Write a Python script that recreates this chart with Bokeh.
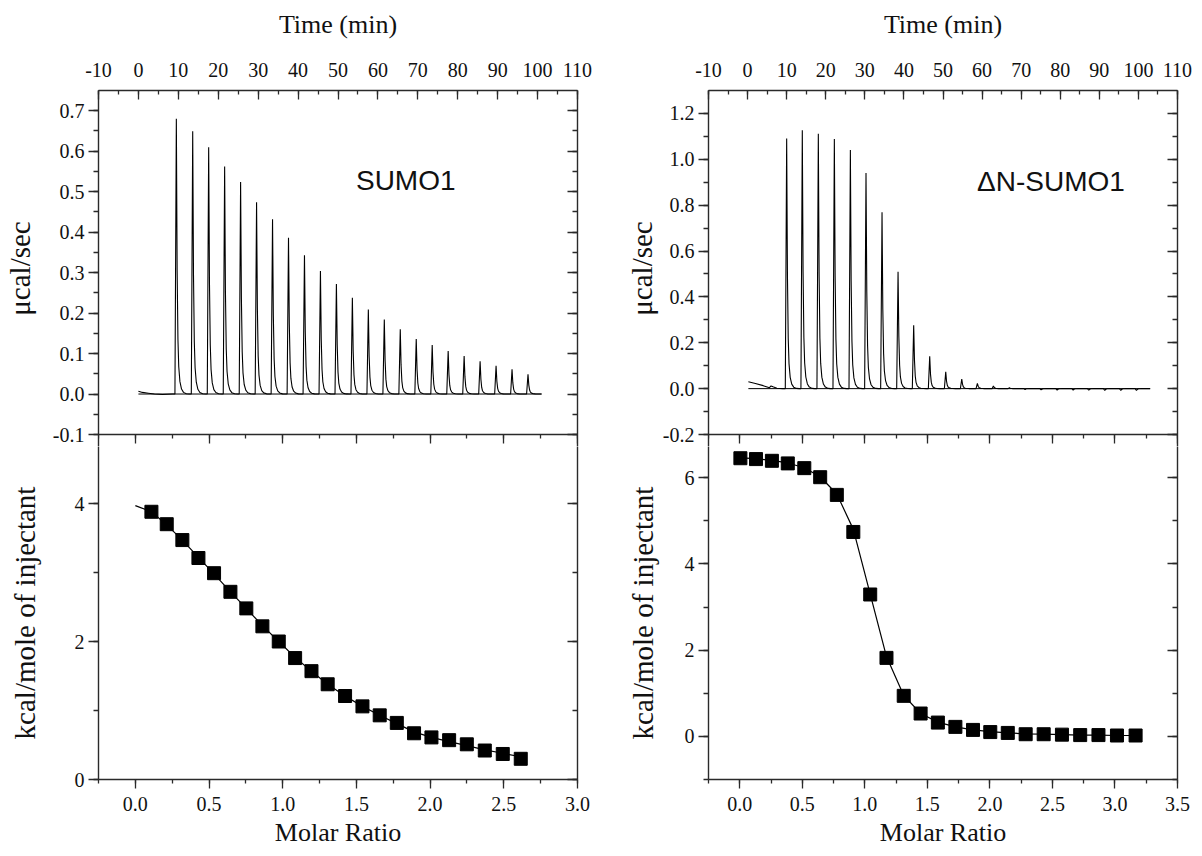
from bokeh.plotting import figure
from bokeh.layouts import row, column
from bokeh.models import (LinearAxis, Range1d, Label, SingleIntervalTicker,
                          PrintfTickFormatter)
from bokeh.embed import file_html
from bokeh.resources import INLINE

# ---------------- data ----------------
# shape of one injection peak, relative to its tip (minutes, fraction of height)
PEAK_DT = [-0.35, 0.0, 0.2, 0.4, 0.6, 0.9, 1.3, 1.8, 2.5, 3.2]
PEAK_FRAC = [0.0, 1.0, 0.45, 0.2, 0.1, 0.045, 0.018, 0.006, 0.001, 0.0]

# SUMO1 raw thermogram
LEFT_PRE_T = [0.0, 1.0, 2.5, 4.0, 6.0, 8.5]
LEFT_PRE_Y = [0.007, 0.004, 0.002, 0.0, -0.001, 0.0]
LEFT_INJ_T = [9.5, 13.6, 17.6, 21.6, 25.6, 29.6, 33.6, 37.6, 41.6, 45.6, 49.6, 53.6,
              57.6, 61.6, 65.6, 69.6, 73.6, 77.6, 81.6, 85.6, 89.6, 93.6, 97.6]
LEFT_PEAK = [0.680, 0.649, 0.610, 0.562, 0.524, 0.474, 0.432, 0.386, 0.343, 0.304, 0.272,
             0.238, 0.209, 0.184, 0.160, 0.136, 0.121, 0.106, 0.094, 0.081, 0.070, 0.061, 0.049]
LEFT_END_T = 101.0
LEFT_BASE_T = [0.0, 101.0]
LEFT_BASE_Y = [0.0, 0.0]

# SUMO1 integrated heats
LEFT_MR = [0.109, 0.213, 0.319, 0.428, 0.534, 0.645, 0.753, 0.862, 0.973, 1.084, 1.195, 1.305,
           1.423, 1.541, 1.658, 1.774, 1.891, 2.009, 2.129, 2.249, 2.371, 2.493, 2.615]
LEFT_DH = [3.88, 3.70, 3.47, 3.21, 2.99, 2.72, 2.48, 2.22, 2.00, 1.76, 1.57, 1.38,
           1.21, 1.06, 0.93, 0.82, 0.67, 0.61, 0.57, 0.51, 0.42, 0.37, 0.30]
LEFT_FIT_MR = [0.0, 0.109, 0.213, 0.319, 0.428, 0.534, 0.645, 0.753, 0.862, 0.973, 1.084, 1.195,
               1.305, 1.423, 1.541, 1.658, 1.774, 1.891, 2.009, 2.129, 2.249, 2.371, 2.493, 2.615]
LEFT_FIT_DH = [3.97, 3.88, 3.69, 3.47, 3.22, 2.98, 2.72, 2.48, 2.23, 2.00, 1.77, 1.57,
               1.38, 1.21, 1.06, 0.93, 0.81, 0.69, 0.61, 0.55, 0.49, 0.43, 0.38, 0.33]

# dN-SUMO1 raw thermogram
RIGHT_PRE_T = [0.2, 2.0, 4.0, 5.6, 6.0, 6.5, 7.5, 9.0]
RIGHT_PRE_Y = [0.030, 0.022, 0.013, 0.004, 0.012, 0.008, 0.002, 0.0]
RIGHT_INJ_T = [10.0, 14.0, 18.1, 22.2, 26.3, 30.3, 34.4, 38.5, 42.5, 46.6, 50.7, 54.8,
               58.8, 62.9, 67.0, 71.0, 75.1, 79.2, 83.3, 87.3, 91.4, 95.5, 99.5]
RIGHT_PEAK = [1.091, 1.127, 1.111, 1.088, 1.040, 0.940, 0.769, 0.510, 0.276, 0.141, 0.073, 0.042,
              0.023, 0.012, 0.004, -0.004, -0.005, -0.006, -0.006, -0.007, -0.008, -0.008, -0.008]
RIGHT_END_T = 103.0
RIGHT_BASE_T = [0.2, 103.0]
RIGHT_BASE_Y = [0.0, 0.0]

# dN-SUMO1 integrated heats
RIGHT_MR = [0.005, 0.130, 0.257, 0.384, 0.516, 0.643, 0.776, 0.908, 1.043, 1.173, 1.311, 1.446,
            1.584, 1.724, 1.865, 2.003, 2.143, 2.286, 2.430, 2.576, 2.722, 2.868, 3.016, 3.165]
RIGHT_DH = [6.45, 6.43, 6.39, 6.33, 6.22, 6.01, 5.60, 4.74, 3.29, 1.82, 0.94, 0.53,
            0.32, 0.22, 0.15, 0.10, 0.08, 0.05, 0.05, 0.04, 0.03, 0.03, 0.02, 0.02]
RIGHT_FIT_DH = [6.46, 6.44, 6.40, 6.34, 6.23, 6.02, 5.62, 4.80, 3.30, 1.85, 0.95, 0.53,
                0.33, 0.22, 0.15, 0.11, 0.08, 0.06, 0.05, 0.04, 0.03, 0.03, 0.02, 0.02]

LEFT_NAME = "SUMO1"
RIGHT_NAME = "\u0394N-SUMO1"
TIME_LABEL = "Time (min)"
RAW_LABEL = "\u03bccal/sec"
HEAT_LABEL = "kcal/mole of injectant"
MR_LABEL = "Molar Ratio"

# ---------------- styling / layout ----------------
SERIF = "Liberation Serif"
SANS = "Liberation Sans"
AX = "#2a2a2a"
TXT = "#111111"
TOP_B = 90        # page y of the frame top
DIV_Y = 434       # page y of the divider between the two panels
SPLIT_Y = 446     # where the upper canvas ends (room for the "-0.1" label)
BOT_Y = 779       # page y of the lower frame bottom
TOTAL_H = 854
T_RANGE = (-10, 110)


def build_trace(pre_t, pre_y, inj_t, peaks, end_t):
    t = list(pre_t)
    y = list(pre_y)
    for ti, hi in zip(inj_t, peaks):
        for d, f in zip(PEAK_DT, PEAK_FRAC):
            t.append(ti + d)
            y.append(hi * f)
    t.append(end_t)
    y.append(0.0)
    return t, y


def style_axis(ax, interval, fmt, inward, labels=True, tick=10):
    ax.ticker = SingleIntervalTicker(interval=interval, num_minor_ticks=2)
    ax.formatter = PrintfTickFormatter(format=fmt)
    ax.axis_line_color = AX
    ax.axis_line_width = 1.4
    ax.major_tick_line_color = AX
    ax.minor_tick_line_color = AX
    ax.major_tick_line_width = 1.3
    ax.minor_tick_line_width = 1.3
    if inward:
        ax.major_tick_in, ax.major_tick_out = tick, 0
        ax.minor_tick_in, ax.minor_tick_out = tick // 2, 0
    else:
        ax.major_tick_in, ax.major_tick_out = 0, tick
        ax.minor_tick_in, ax.minor_tick_out = 0, tick // 2
    if labels:
        ax.major_label_text_font = SERIF
        ax.major_label_text_font_size = "20px"
        ax.major_label_text_color = TXT
    else:
        ax.major_label_text_color = None
        ax.major_label_standoff = 0
    ax.axis_label_text_font = SERIF
    ax.axis_label_text_font_style = "normal"
    ax.axis_label_text_color = TXT


def base_fig(width, height, xr, yr, mb_l, mb_r, mb_t, mb_b, x_loc):
    p = figure(width=width, height=height, x_range=Range1d(*xr), y_range=Range1d(*yr),
               x_axis_location=x_loc, toolbar_location=None, output_backend="svg",
               min_border_left=mb_l, min_border_right=mb_r,
               min_border_top=mb_t, min_border_bottom=mb_b)
    p.xgrid.visible = False
    p.ygrid.visible = False
    p.outline_line_color = None
    p.background_fill_color = "white"
    p.border_fill_color = "white"
    return p


def raw_fig(width, mb_l, mb_r, raw_rng, raw_int, mr_rng, pre_t, pre_y, inj_t, peaks, end_t,
            base_t, base_y, name, name_x, name_y, ylab_standoff):
    lo, hi = raw_rng
    ppu = (DIV_Y - TOP_B) / (hi - lo)
    full_lo = hi - (SPLIT_Y - TOP_B) / ppu
    p = base_fig(width, SPLIT_Y, T_RANGE, (full_lo, hi), mb_l, mb_r, TOP_B, 0, "above")
    p.extra_x_ranges = {"mr": Range1d(*mr_rng)}

    tx = p.xaxis[0]
    style_axis(tx, 10, "%d", inward=True, tick=9)
    tx.major_label_standoff = 14
    tx.axis_label = TIME_LABEL
    tx.axis_label_text_font_size = "26px"
    tx.axis_label_standoff = 21

    ly = p.yaxis[0]
    style_axis(ly, raw_int, "%.1f", inward=False, tick=10)
    ly.major_label_standoff = 4
    ly.axis_label = RAW_LABEL
    ly.axis_label_text_font_size = "29px"
    ly.axis_label_standoff = ylab_standoff

    ry = LinearAxis()
    style_axis(ry, raw_int, "%.1f", inward=True, labels=False, tick=10)
    p.add_layout(ry, "right")

    # panel divider, carrying the molar-ratio ticks of the lower panel
    dv = LinearAxis(x_range_name="mr", fixed_location=lo)
    style_axis(dv, 0.5, "%.1f", inward=False, labels=False, tick=9)
    p.add_layout(dv, "below")

    t, y = build_trace(pre_t, pre_y, inj_t, peaks, end_t)
    p.line(base_t, base_y, color="black", line_width=1.0)
    p.line(t, y, color="black", line_width=1.1)
    p.add_layout(Label(x=name_x, y=name_y, text=name, text_font=SANS, text_font_size="28px",
                       text_color=TXT, text_align="left", text_baseline="middle"))
    return p


def heat_fig(width, mb_l, mb_r, mr_rng, heat_rng, mr, dh, fit_mr, fit_dh, ylab_standoff):
    lo, hi = heat_rng
    ppu = (BOT_Y - DIV_Y) / (hi - lo)
    top = lo + (BOT_Y - SPLIT_Y) / ppu
    p = base_fig(width, TOTAL_H - SPLIT_Y, mr_rng, (lo, top), mb_l, mb_r, 0,
                 TOTAL_H - BOT_Y, "below")

    bx = p.xaxis[0]
    style_axis(bx, 0.5, "%.1f", inward=False, tick=9)
    bx.major_label_standoff = 8
    bx.axis_label = MR_LABEL
    bx.axis_label_text_font_size = "26px"
    bx.axis_label_standoff = 4

    ly = p.yaxis[0]
    style_axis(ly, 2, "%d", inward=False, tick=10)
    ly.major_label_standoff = 4
    ly.axis_label = HEAT_LABEL
    ly.axis_label_text_font_size = "29px"
    ly.axis_label_standoff = ylab_standoff

    ry = LinearAxis()
    style_axis(ry, 2, "%d", inward=True, labels=False, tick=10)
    p.add_layout(ry, "right")

    p.line(fit_mr, fit_dh, color="black", line_width=1.2)
    p.scatter(mr, dh, marker="square", size=13, fill_color="black", line_color="black")
    return p


p1 = raw_fig(622, 97, 45, (-0.1, 0.75), 0.1, (-0.25, 3.0), LEFT_PRE_T, LEFT_PRE_Y,
             LEFT_INJ_T, LEFT_PEAK, LEFT_END_T, LEFT_BASE_T, LEFT_BASE_Y,
             LEFT_NAME, 54.5, 0.528, 14)
p2 = heat_fig(622, 97, 45, (-0.25, 3.0), (0, 5), LEFT_MR, LEFT_DH, LEFT_FIT_MR, LEFT_FIT_DH, 31)
p3 = raw_fig(578, 85, 23, (-0.2, 1.3), 0.2, (-0.25, 3.5), RIGHT_PRE_T, RIGHT_PRE_Y,
             RIGHT_INJ_T, RIGHT_PEAK, RIGHT_END_T, RIGHT_BASE_T, RIGHT_BASE_Y,
             RIGHT_NAME, 58.7, 0.905, 2)
p4 = heat_fig(578, 85, 23, (-0.25, 3.5), (-1, 7), RIGHT_MR, RIGHT_DH, RIGHT_MR, RIGHT_FIT_DH, 23)

layout = row(column(p1, p2, spacing=0), column(p3, p4, spacing=0), spacing=0)

open("out.html", "w").write(file_html(layout, INLINE))
